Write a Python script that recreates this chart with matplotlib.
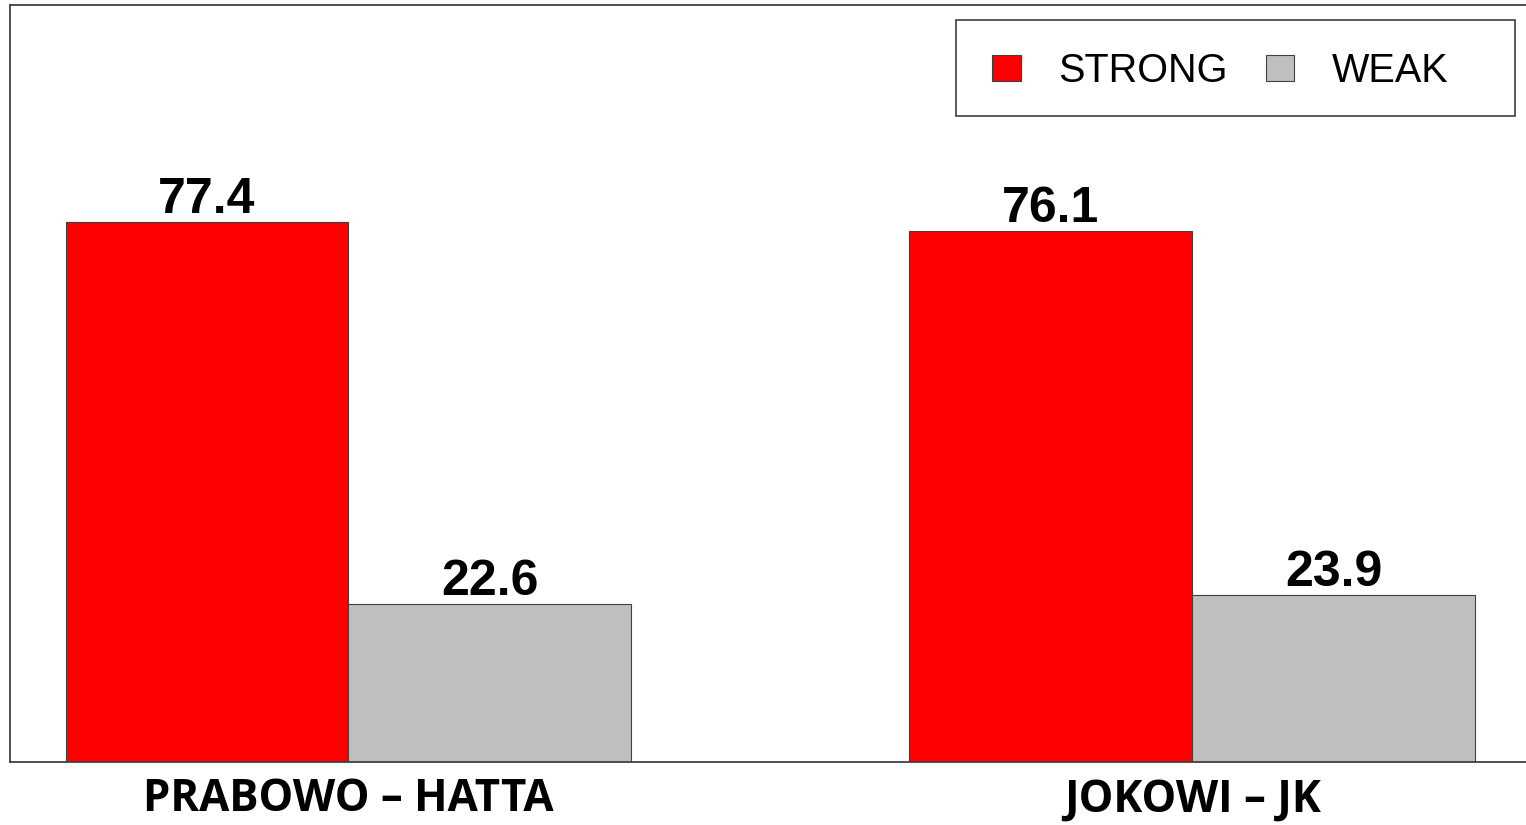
import numpy as np
import matplotlib
matplotlib.use("Agg")
import matplotlib.pyplot as plt
from matplotlib.patches import Rectangle

# data
groups = ["PRABOWO \u2013 HATTA", "JOKOWI \u2013 JK"]
strong = [77.4, 76.1]
weak = [22.6, 23.9]
series_names = ["STRONG", "WEAK"]

W, H = 1526, 825
fig = plt.figure(figsize=(W / 100, H / 100), dpi=100)
ax = fig.add_axes([9.5 / W, 63 / H, 1 - 9.5 / W, 757 / H])

x = np.arange(len(groups))
w = 283 / 844
b1 = ax.bar(x - w / 2, strong, w, color="#ff0000", edgecolor="#404040", linewidth=0.8, label=series_names[0])
b2 = ax.bar(x + w / 2, weak, w, color="#bfbfbf", edgecolor="#404040", linewidth=0.8, label=series_names[1])

for bars, vals in [(b1, strong), (b2, weak)]:
    for r, v in zip(bars, vals):
        ax.annotate("{:.1f}".format(v), (r.get_x() + r.get_width() / 2, v),
                    xytext=(0, 6.5), textcoords="offset points",
                    ha="center", va="baseline", fontsize=36, fontweight="bold",
                    family="Liberation Sans")

ax.set_xlim(-0.4017, 1.3957)
ax.set_ylim(0, 108.5)
ax.set_xticks(x)
ax.set_xticklabels(groups, fontsize=31.5, fontweight="bold", family="Open Sans")
ax.tick_params(axis="x", length=0, pad=11)
ax.set_yticks([])
for s in ["left", "top", "bottom"]:
    ax.spines[s].set_color("#404040")
    ax.spines[s].set_linewidth(1.3)
ax.spines["right"].set_visible(False)

# legend box drawn separately (it is wider than its contents)
ax.add_patch(Rectangle((956 / W, 1 - 116 / H), (1515 - 956) / W, 96 / H,
                       transform=fig.transFigure, facecolor="white", clip_on=False,
                       edgecolor="#404040", linewidth=1.2, zorder=5))
leg = ax.legend(ncol=2, loc="upper left", bbox_to_anchor=(992 / W, 1 - 52 / H),
                bbox_transform=fig.transFigure, frameon=False,
                prop={"family": "Liberation Sans", "size": 28.5},
                handlelength=0.73, handleheight=0.6, handletextpad=0.95,
                columnspacing=0.95, borderpad=0, borderaxespad=0)
leg.set_zorder(6)

fig.savefig("out.png", dpi=100)
